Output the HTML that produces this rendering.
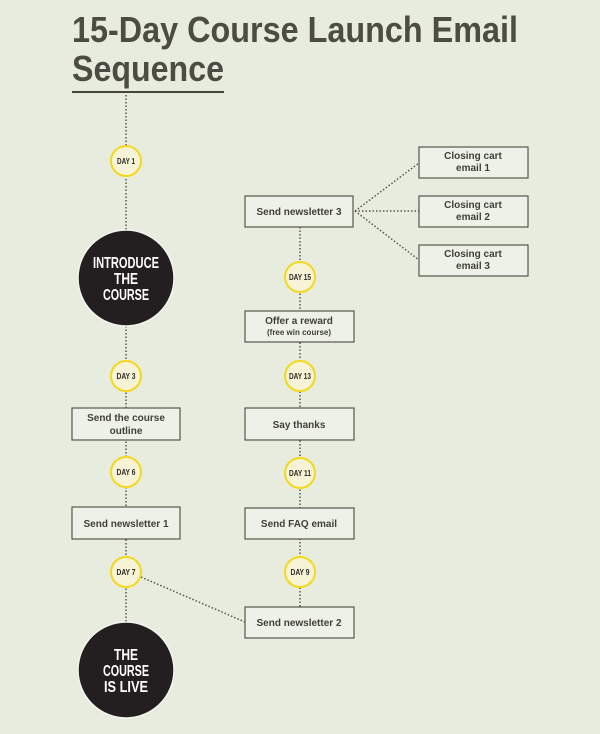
<!DOCTYPE html>
<html><head><style>
html,body{margin:0;padding:0;background:#e8ecdf;}
svg{display:block;font-family:"Liberation Sans",sans-serif;}
.b{fill:#eef1e7;stroke:#55574b;stroke-width:1.2}
.t{font-size:10px;font-weight:bold;fill:#3f4137;text-anchor:middle}
.d{stroke:#55574b;stroke-width:1.5;stroke-dasharray:1.5 2;fill:none}
.c{fill:#f7f3d6;stroke:#f3d81b;stroke-width:2}
.ct{font-size:8px;font-weight:bold;fill:#2a2a24;text-anchor:middle}
.bc{fill:#231f20;stroke:#f4f4ee;stroke-width:1.5}
.bt{font-size:16px;font-weight:bold;fill:#fff;text-anchor:middle}
</style></head><body>
<svg width="600" height="734" viewBox="0 0 600 734">
<rect width="600" height="734" fill="#e8ecdf"/>
<text x="72" y="42" font-size="36" font-weight="bold" fill="#4b4c42" textLength="446" lengthAdjust="spacingAndGlyphs">15-Day Course Launch Email</text>
<text x="72" y="81" font-size="36" font-weight="bold" fill="#4b4c42" textLength="152" lengthAdjust="spacingAndGlyphs">Sequence</text>
<rect x="72" y="91" width="152" height="2" fill="#44463c"/>
<line class="d" x1="126" y1="95" x2="126" y2="640"/>
<line class="d" x1="300" y1="227" x2="300" y2="607"/>
<line class="d" x1="141" y1="577" x2="245" y2="622"/>
<line class="d" x1="355" y1="211" x2="419" y2="163"/>
<line class="d" x1="355" y1="211" x2="419" y2="211"/>
<line class="d" x1="355" y1="211" x2="419" y2="260"/>
<circle class="bc" cx="126" cy="278" r="48"/>
<text class="bt" x="126" y="268" textLength="66" lengthAdjust="spacingAndGlyphs">INTRODUCE</text>
<text class="bt" x="126" y="284" textLength="24" lengthAdjust="spacingAndGlyphs">THE</text>
<text class="bt" x="126" y="300" textLength="46" lengthAdjust="spacingAndGlyphs">COURSE</text>
<circle class="bc" cx="126" cy="670" r="48"/>
<text class="bt" x="126" y="660" textLength="24" lengthAdjust="spacingAndGlyphs">THE</text>
<text class="bt" x="126" y="676" textLength="46" lengthAdjust="spacingAndGlyphs">COURSE</text>
<text class="bt" x="126" y="692" textLength="44" lengthAdjust="spacingAndGlyphs">IS LIVE</text>
<g>
<circle class="c" cx="126" cy="161" r="15"/><text class="ct" x="126" y="164" textLength="18" lengthAdjust="spacingAndGlyphs">DAY 1</text>
<circle class="c" cx="126" cy="376" r="15"/><text class="ct" x="126" y="379" textLength="19" lengthAdjust="spacingAndGlyphs">DAY 3</text>
<circle class="c" cx="126" cy="472" r="15"/><text class="ct" x="126" y="475" textLength="19" lengthAdjust="spacingAndGlyphs">DAY 6</text>
<circle class="c" cx="126" cy="572" r="15"/><text class="ct" x="126" y="575" textLength="19" lengthAdjust="spacingAndGlyphs">DAY 7</text>
<circle class="c" cx="300" cy="277" r="15"/><text class="ct" x="300" y="280" textLength="22" lengthAdjust="spacingAndGlyphs">DAY 15</text>
<circle class="c" cx="300" cy="376" r="15"/><text class="ct" x="300" y="379" textLength="22" lengthAdjust="spacingAndGlyphs">DAY 13</text>
<circle class="c" cx="300" cy="473" r="15"/><text class="ct" x="300" y="476" textLength="22" lengthAdjust="spacingAndGlyphs">DAY 11</text>
<circle class="c" cx="300" cy="572" r="15"/><text class="ct" x="300" y="575" textLength="19" lengthAdjust="spacingAndGlyphs">DAY 9</text>
</g>
<rect class="b" x="72" y="408" width="108" height="32"/>
<text class="t" x="126" y="421">Send the course</text><text class="t" x="126" y="434">outline</text>
<rect class="b" x="72" y="507" width="108" height="32"/>
<text class="t" x="126" y="527">Send newsletter 1</text>
<rect class="b" x="245" y="196" width="108" height="31"/>
<text class="t" x="299" y="215">Send newsletter 3</text>
<rect class="b" x="245" y="311" width="109" height="31"/>
<text class="t" x="299" y="324">Offer a reward</text>
<text class="t" x="299" y="335" style="font-size:8px">(free win course)</text>
<rect class="b" x="245" y="408" width="109" height="32"/>
<text class="t" x="299" y="428">Say thanks</text>
<rect class="b" x="245" y="508" width="109" height="31"/>
<text class="t" x="299" y="527">Send FAQ email</text>
<rect class="b" x="245" y="607" width="109" height="31"/>
<text class="t" x="299" y="626">Send newsletter 2</text>
<rect class="b" x="419" y="147" width="109" height="31"/>
<text class="t" x="473" y="159">Closing cart</text><text class="t" x="473" y="171">email 1</text>
<rect class="b" x="419" y="196" width="109" height="31"/>
<text class="t" x="473" y="208">Closing cart</text><text class="t" x="473" y="220">email 2</text>
<rect class="b" x="419" y="245" width="109" height="31"/>
<text class="t" x="473" y="257">Closing cart</text><text class="t" x="473" y="269">email 3</text>
</svg>
</body></html>
